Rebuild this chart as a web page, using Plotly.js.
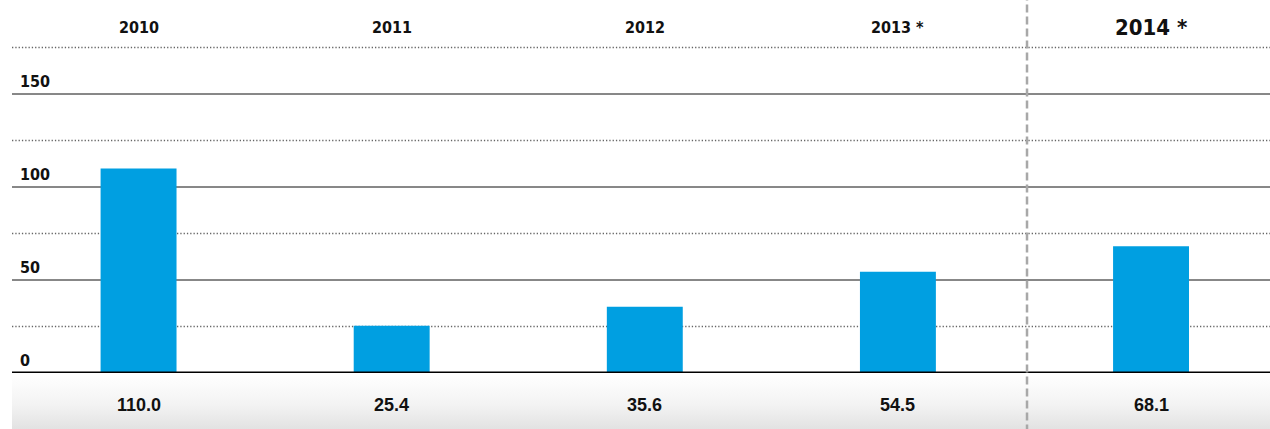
<!DOCTYPE html>
<html><head><meta charset="utf-8">
<script src="https://cdn.plot.ly/plotly-3.0.1.min.js"></script>
<style>
html,body{margin:0;padding:0;background:#fff;}
#wrap{position:relative;width:1270px;height:429px;}
#band{position:absolute;left:12px;top:375px;width:1258px;height:54px;background:linear-gradient(to bottom,#ffffff 0%,#f3f3f3 55%,#e2e2e2 100%);}
#chart{position:absolute;left:0;top:0;width:1270px;height:429px;}
</style></head>
<body><div id="wrap"><div id="band"></div><div id="chart"></div></div>
<script>
const categories = ["2010", "2011", "2012", "2013 *", "2014 *"];
const values = [110.0, 25.4, 35.6, 54.5, 68.1];
const valueLabels = ["110.0", "25.4", "35.6", "54.5", "68.1"];
const solidTicks = [50, 100, 150];
const dottedTicks = [25, 75, 125, 175];
const yTickLabels = ["0", "50", "100", "150"];
const yTickValues = [0, 50, 100, 150];

const xIdx = categories.map((c, i) => i);
const condensed = "'Liberation Sans Narrow', 'DejaVu Sans Condensed', Arial, sans-serif";
const regular = "'Liberation Sans', Arial, sans-serif";

const shapes = [];
solidTicks.forEach(v => shapes.push({type:'line', xref:'paper', yref:'y', x0:0, x1:1, y0:v, y1:v, line:{color:'#111', width:1}, layer:'below'}));
dottedTicks.forEach(v => shapes.push({type:'line', xref:'paper', yref:'y', x0:0, x1:1, y0:v, y1:v, line:{color:'#666', width:1.3, dash:'1.3px,2px'}, layer:'below'}));
shapes.push({type:'line', xref:'paper', yref:'y', x0:0, x1:1, y0:0, y1:0, line:{color:'#000', width:3}});
shapes.push({type:'line', xref:'x', yref:'paper', x0:3.51, x1:3.51, y0:-0.16, y1:1.01, line:{color:'#a8a8a8', width:2.5, dash:'8px,4px'}});

const annotations = [];
categories.forEach((c, i) => {
  const big = i === 4;
  annotations.push({x:i, y:186, xref:'x', yref:'y', text:'<b>'+c+'</b>', showarrow:false,
    font:{family:condensed, size: big ? 22 : 16, color:'#111'}, xanchor:'center', yanchor:'middle'});
  annotations.push({x:i, y:0, xref:'x', yref:'paper', yshift:-32, text:'<b>'+valueLabels[i]+'</b>', showarrow:false,
    font:{family:regular, size:18, color:'#111'}, xanchor:'center', yanchor:'middle'});
});
yTickValues.forEach((v, i) => {
  annotations.push({x:0, y:v, xref:'paper', yref:'y', xshift:6, yshift:13, text:'<b>'+yTickLabels[i]+'</b>', showarrow:false,
    font:{family:condensed, size:16, color:'#111'}, xanchor:'left', yanchor:'middle'});
});

const trace = {type:'bar', x:xIdx, y:values, width:0.3, marker:{color:'#009FE1', line:{width:0}}, hoverinfo:'none'};

const layout = {
  width:1270, height:429,
  margin:{l:12, r:0, t:1, b:56},
  paper_bgcolor:'rgba(0,0,0,0)', plot_bgcolor:'rgba(0,0,0,0)',
  showlegend:false,
  xaxis:{range:[-0.5, 4.47], showgrid:false, zeroline:false, showticklabels:false, ticks:'', fixedrange:true},
  yaxis:{range:[0, 200], showgrid:false, zeroline:false, showticklabels:false, ticks:'', fixedrange:true},
  shapes:shapes, annotations:annotations
};
Plotly.newPlot('chart', [trace], layout, {displayModeBar:false, staticPlot:true});
</script></body></html>
